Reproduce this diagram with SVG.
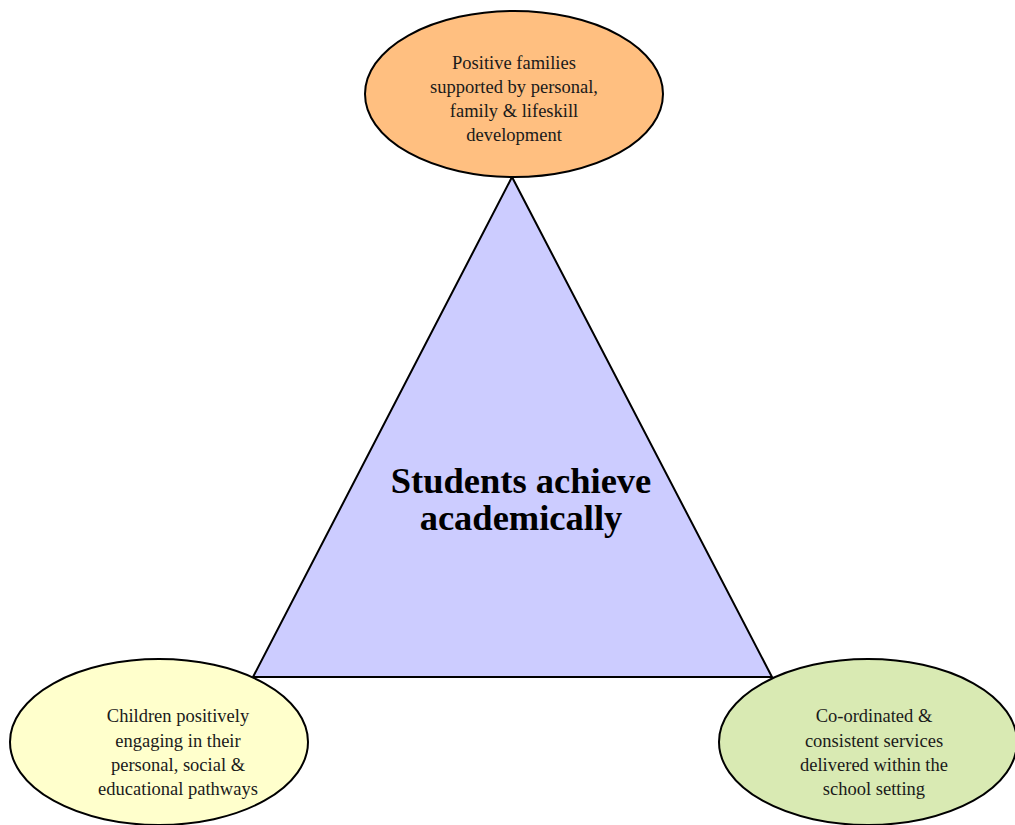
<svg xmlns="http://www.w3.org/2000/svg" width="1015" height="825" viewBox="0 0 1015 825">
<style>
.node{stroke:#000;stroke-width:2}
.t{font-family:"Liberation Serif",serif;font-size:18.5px;fill:#1a1a1a;text-anchor:middle}
.main{font-family:"Liberation Serif",serif;font-size:36.5px;font-weight:bold;fill:#000;text-anchor:middle}
</style>
<rect width="1015" height="825" fill="#fff"/>
<g id="center">
<polygon class="node" points="512,177 253,677 772,677" fill="#ccccff"/>
<text class="main" x="521" y="493">Students achieve</text>
<text class="main" x="521" y="530">academically</text>
</g>
<g id="top">
<ellipse class="node" cx="514" cy="94" rx="149" ry="83" fill="#ffbf80"/>
<text class="t" x="514" y="69">Positive families</text>
<text class="t" x="514" y="93">supported by personal,</text>
<text class="t" x="514" y="117">family &amp; lifeskill</text>
<text class="t" x="514" y="141">development</text>
</g>
<g id="left">
<ellipse class="node" cx="159" cy="742" rx="149" ry="83" fill="#ffffcc"/>
<text class="t" x="178" y="722">Children positively</text>
<text class="t" x="178" y="747">engaging in their</text>
<text class="t" x="178" y="771">personal, social &amp;</text>
<text class="t" x="178" y="795">educational pathways</text>
</g>
<g id="right">
<ellipse class="node" cx="868" cy="742" rx="149" ry="83" fill="#d9eab3"/>
<text class="t" x="874" y="722">Co-ordinated &amp;</text>
<text class="t" x="874" y="747">consistent services</text>
<text class="t" x="874" y="771">delivered within the</text>
<text class="t" x="874" y="795">school setting</text>
</g>
<g id="connectors"/>
</svg>
